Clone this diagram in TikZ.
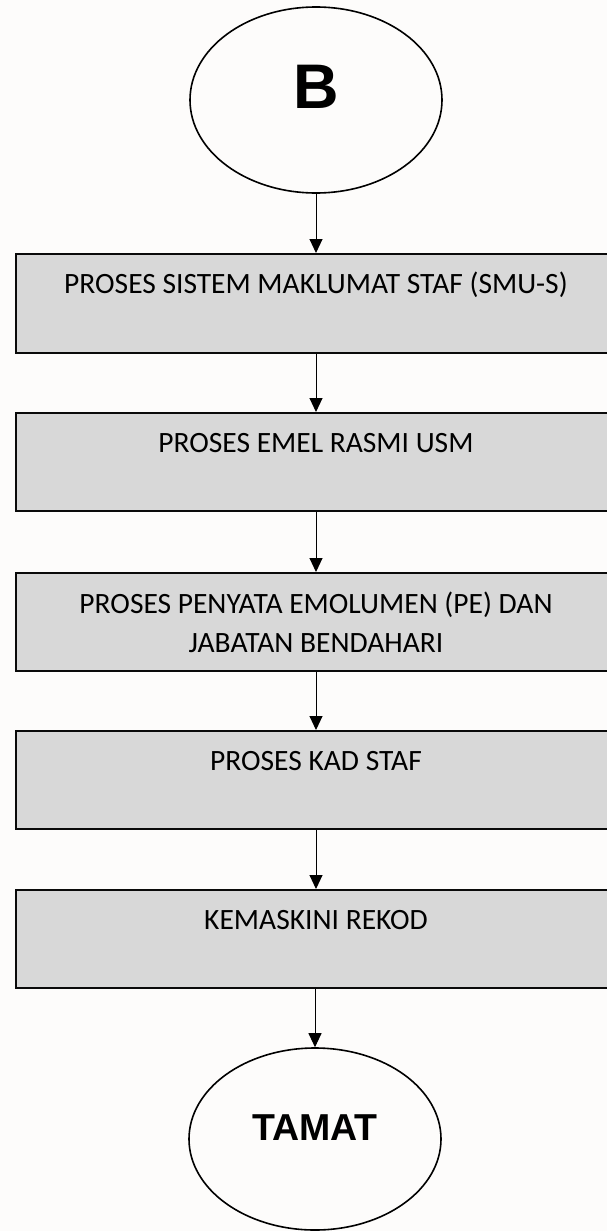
\documentclass[tikz,border=0pt]{standalone}
\usepackage{fontspec}
\setmainfont{Carlito}
\newfontfamily\arialfont{Liberation Sans}
\usetikzlibrary{shapes.geometric,arrows.meta}
\definecolor{bg}{HTML}{FDFCFB}
\definecolor{boxgray}{HTML}{D8D8D8}
\definecolor{edgecol}{HTML}{0A0A0A}
\begin{document}
\begin{tikzpicture}[x=1pt,y=-1pt,
  terminal/.style={ellipse, draw=black, line width=1.6pt, inner sep=0pt,
    minimum width=252pt},
  procbox/.style={rectangle, draw=edgecol, line width=1.7pt, fill=boxgray,
    minimum width=595pt, minimum height=98pt, inner sep=0pt, anchor=north west},
  boxtext/.style={font=\fontsize{29.5}{39}\selectfont, inner sep=0pt, align=center, anchor=base},
  arr/.style={-{Triangle[width=13pt,length=14pt]}, line width=1pt, draw=black}]
\fill[bg] (0,0) rectangle (607,1231);
\useasboundingbox (0,0) rectangle (607,1231);
% terminals
\node[terminal, minimum height=186pt, text depth=26pt,
  font=\arialfont\bfseries\fontsize{63}{63}\selectfont] (B) at (316,100) {B};
\node[terminal, minimum height=182pt, text depth=22pt,
  font=\arialfont\bfseries\fontsize{37.5}{37.5}\selectfont] (T) at (315,1139) {TAMAT};
% process boxes
\node[procbox, minimum height=99pt] (b1) at (15,253) {};
\node[procbox] (b2) at (15,412) {};
\node[procbox] (b3) at (15,572) {};
\node[procbox] (b4) at (15,730) {};
\node[procbox] (b5) at (15,889) {};
% box texts
\node[boxtext] (t1) at (316,293) {PROSES SISTEM MAKLUMAT STAF (SMU-S)};
\node[boxtext] (t2) at (316,452) {PROSES EMEL RASMI USM};
\node[boxtext] (t3) at (316,652) {PROSES PENYATA EMOLUMEN (PE) DAN\\JABATAN BENDAHARI};
\node[boxtext] (t4) at (316,770) {PROSES KAD STAF};
\node[boxtext] (t5) at (316,929) {KEMASKINI REKOD};
% connectors
\draw[arr] (B.south) -- (B.south |- b1.north);
\draw[arr] (b1.south -| B.south) -- (b2.north -| B.south);
\draw[arr] (b2.south -| B.south) -- (b3.north -| B.south);
\draw[arr] (b3.south -| B.south) -- (b4.north -| B.south);
\draw[arr] (b4.south -| B.south) -- (b5.north -| B.south);
\draw[arr] (b5.south -| T.north) -- (T.north);
\end{tikzpicture}
\end{document}
